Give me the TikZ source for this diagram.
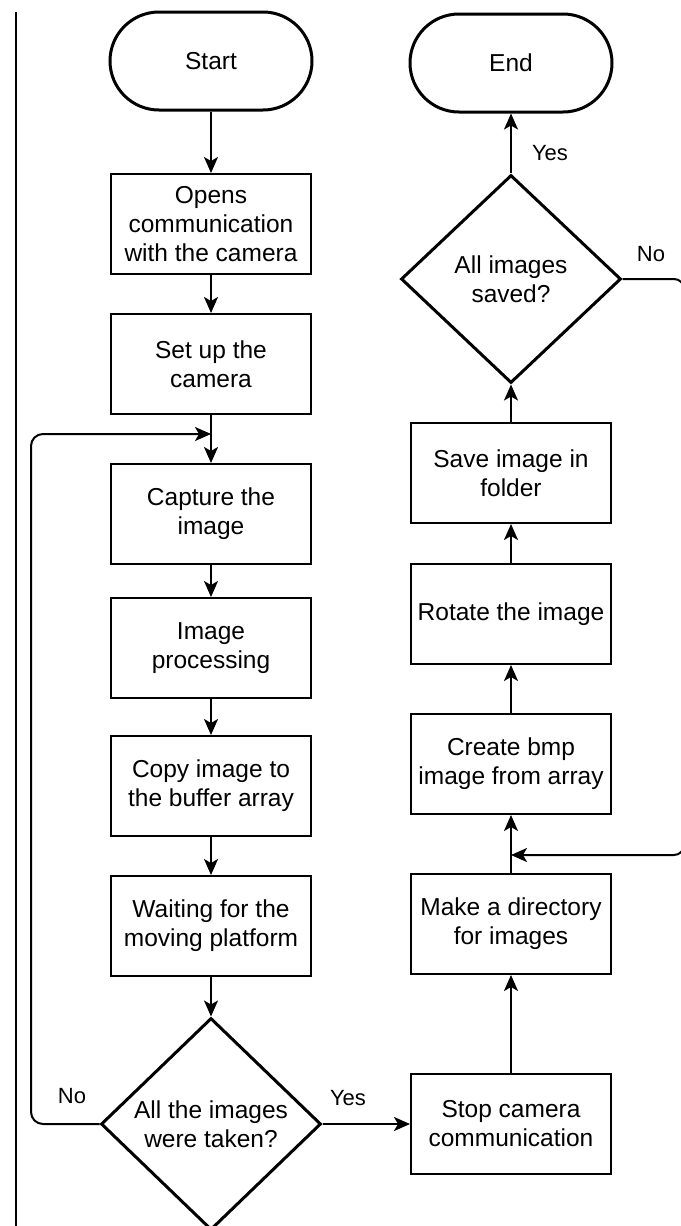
\documentclass[tikz,border=0pt]{standalone}
\usepackage{fontspec}
\setmainfont{Liberation Sans}
\usetikzlibrary{arrows.meta,shapes.geometric}
\tikzset{
  boxnode/.style={draw=black, line width=2pt, rectangle, minimum width=200pt, minimum height=100pt, inner sep=0pt, align=center, font=\fontsize{24.5}{29}\selectfont},
  termnode/.style={draw=black, line width=3pt, rectangle, rounded corners=49pt, minimum width=202pt, minimum height=98pt, inner sep=0pt, align=center, font=\fontsize{24.5}{29}\selectfont},
  decnode/.style={draw=black, line width=3pt, diamond, minimum width=220pt, minimum height=212pt, inner sep=0pt, align=center, font=\fontsize{24.5}{29}\selectfont},
  arr/.style={draw=black, line width=2pt, -{Stealth[length=16pt,width=14pt,inset=4pt]}},
  lbl/.style={font=\fontsize{22}{26}\selectfont, inner sep=0pt}
}
\begin{document}
\begin{tikzpicture}[x=1pt,y=-1pt]
\useasboundingbox (0,0) rectangle (680,1226);
\fill[white] (0,0) rectangle (680,1226);
% left border line
\coordinate (bt) at (16,12);
\coordinate (bb) at (16,1240);
\draw[line width=1.6pt] (bt) -- (bb);

% left column
\node[termnode] (start) at (211,61) {Start};
\node[boxnode] (b1) at (211,224) {Opens\\communication\\with the camera};
\node[boxnode] (b2) at (211,364) {Set up the\\camera};
\node[boxnode] (b3) at (211,514) {Capture the\\image};
\node[boxnode] (b4) at (211,648) {Image\\processing};
\node[boxnode] (b5) at (211,786) {Copy image to\\the buffer array};
\node[boxnode] (b6) at (211,926) {Waiting for the\\moving platform};
\node[decnode] (d1) at (211,1124) {All the images\\were taken?};

% right column
\node[termnode] (end) at (511,63) {End};
\node[decnode, minimum height=208pt] (d2) at (511,279) {All images\\saved?};
\node[boxnode] (s1) at (511,473) {Save image in\\folder};
\node[boxnode] (s2) at (511,614) {Rotate the image};
\node[boxnode] (s3) at (511,764) {Create bmp\\image from array};
\node[boxnode] (s4) at (511,924) {Make a directory\\for images};
\node[boxnode] (s5) at (511,1124) {Stop camera\\communication};

% junctions
\coordinate (j1) at (211,434);
\coordinate (j2) at (511,855);
\coordinate (l1) at (31,1124);
\coordinate (l2) at (31,434);
\coordinate (r1) at (684,279);
\coordinate (r2) at (684,855);

% left column arrows
\draw[arr] (start) -- (b1);
\draw[arr] (b1) -- (b2);
\draw[arr] (b2) -- (b3);
\draw[arr] (b3) -- (b4);
\draw[arr] (b4) -- (b5);
\draw[arr] (b5) -- (b6);
\draw[arr] (b6) -- (d1);
\draw[arr, rounded corners=12pt] (d1.west) -- (l1) -- (l2) -- (j1);
\draw[arr] (d1.east) -- (s5.west);

% right column arrows
\draw[arr] (s5) -- (s4);
\draw[arr] (s4) -- (s3);
\draw[arr] (s3) -- (s2);
\draw[arr] (s2) -- (s1);
\draw[arr] (s1) -- (d2);
\draw[arr] (d2) -- (end);
\draw[arr, rounded corners=10pt] (d2.east) -- (r1) -- (r2) -- (j2);

% labels
\node[lbl] (ln1) at (72,1096) {No};
\node[lbl] (ly1) at (348,1098) {Yes};
\node[lbl] (ly2) at (550,153) {Yes};
\node[lbl] (ln2) at (651,254) {No};
\end{tikzpicture}
\end{document}
